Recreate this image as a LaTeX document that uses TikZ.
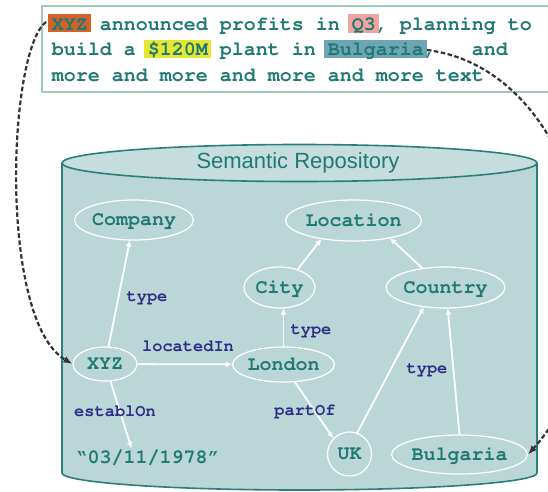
\documentclass[tikz,border=0pt]{standalone}
\usepackage[T1]{fontenc}
\usepackage{fontspec}
\setsansfont{Liberation Sans}
\usetikzlibrary{shapes.geometric,arrows.meta}

\definecolor{txtteal}{HTML}{1E7A72}
\definecolor{lblblue}{HTML}{2E2E88}
\definecolor{cylfill}{HTML}{BBD6D6}
\definecolor{cyltop}{HTML}{C6DDDD}
\definecolor{cylline}{HTML}{2A7F78}
\definecolor{boxline}{HTML}{9FCAB5}
\definecolor{linkgray}{HTML}{333333}
\definecolor{hlorange}{HTML}{D2622A}
\definecolor{hlpink}{HTML}{F0A4A0}
\definecolor{hlyellow}{HTML}{E6E632}
\definecolor{hlteal}{HTML}{6FA5B2}

\setlength{\fboxsep}{0pt}
\newcommand\cour{\fontencoding{T1}\fontfamily{pcr}\bfseries}
\newcommand\hlt[2]{\hspace{-3.5pt}\colorbox{#1}{\hspace{3.5pt}\rule[-2pt]{0pt}{18pt}#2\hspace{3.5pt}}\hspace{-3.5pt}}
\newcommand\txtfont{\cour\fontsize{20}{25}\selectfont}
\newcommand\clsfont{\cour\fontsize{20}{24}\selectfont}
\newcommand\lblfont{\cour\fontsize{17}{20}\selectfont}

\begin{document}
\begin{tikzpicture}[x=1pt,y=1pt,
  cls/.style={ellipse,draw=white,line width=1.2pt,inner sep=0pt,text=txtteal,font=\clsfont,text height=11.4pt,text depth=0pt},
  lbl/.style={text=lblblue,font=\lblfont,inner sep=0pt},
  rel/.style={draw=white,line width=1.8pt,-{Latex[length=6pt,width=6pt]}},
  link/.style={draw=linkgray,line width=2.2pt,dash pattern=on 4.5pt off 2.5pt,-{Latex[length=9pt,width=7pt]}}]
\useasboundingbox (0,0) rectangle (548,-491);
\clip (0,0) rectangle (548,-491);

% text
\draw[boxline,line width=1.2pt] (42,-6) rectangle (560,-92);
\node[anchor=base west,inner sep=0pt,text=txtteal,font=\txtfont] (line1) at (51.7,-30)
  {\hlt{hlorange}{XYZ} announced profits in \hlt{hlpink}{Q3}, planning to};
\node[anchor=base west,inner sep=0pt,text=txtteal,font=\txtfont] (line2) at (51.7,-55.5)
  {build a \hlt{hlyellow}{\$120M} plant in \hlt{hlteal}{Bulgaria},\ \ \ and};
\node[anchor=base west,inner sep=0pt,text=txtteal,font=\txtfont] (line3) at (51.7,-81)
  {more and more and more and more text};
\coordinate (fromXYZ) at (46,-22);
\coordinate (fromBG) at (427,-50);

% repository
\fill[cylfill] (62,-163) -- (62,-473) arc[start angle=180,end angle=360,x radius=237.5,y radius=17] -- (537,-163) -- cycle;
\draw[cylline,line width=1.6pt] (62,-163) -- (62,-473) arc[start angle=180,end angle=360,x radius=237.5,y radius=17] -- (537,-163);
\draw[cylline,line width=1.6pt,fill=cyltop] (299.5,-163) ellipse[x radius=237.5,y radius=18.5];
\node[font=\sffamily\fontsize{22}{26}\selectfont,text=txtteal,anchor=base,inner sep=0pt] (repo) at (298,-168) {Semantic Repository};

% classes
\node[cls,minimum width=108pt,minimum height=40pt] (Company) at (134,-220) {Company};
\node[cls,minimum width=127pt,minimum height=41pt] (Location) at (353.5,-220.5) {Location};
\node[cls,minimum width=71pt,minimum height=41pt] (City) at (279.5,-287.5) {City};
\node[cls,minimum width=107pt,minimum height=41pt] (Country) at (445.5,-287.5) {Country};
% instances
\node[cls,minimum width=64pt,minimum height=34pt] (XYZ) at (105,-364) {XYZ};
\node[cls,minimum width=101pt,minimum height=35pt] (London) at (283.5,-364.5) {London};
\node[cls,circle,minimum size=44pt] (UK) at (349.5,-454) {UK};
\node[cls,minimum width=127pt,minimum height=39pt] (Bulgaria) at (459.5,-454.5) {Bulgaria};
\node[text=txtteal,font=\clsfont,anchor=base,inner sep=0pt] (date) at (147.5,-463) {\textquotedblleft 03/11/1978\textquotedblright};

% relations
\draw[rel] (XYZ) -- (Company);
\draw[rel] (XYZ) -- (London);
\draw[rel] (XYZ) -- ([xshift=-16pt,yshift=2pt]date.north);
\draw[rel] (London.north) -- (London.north |- City.south);
\draw[rel] (City.45) -- (Location.210);
\draw[rel] (Country.140) -- (Location.334);
\draw[rel] (London.303) -- (UK.136);
\draw[rel] (UK.70) -- (Country.222);
\draw[rel] (Bulgaria.north) -- (Country.-84);

\node[lbl] (l1) at (147,-298) {type};
\node[lbl] (l2) at (188,-346) {locatedIn};
\node[lbl] (l3) at (115,-411) {establOn};
\node[lbl] (l4) at (311,-330.5) {type};
\node[lbl] (l5) at (305,-411) {partOf};
\node[lbl] (l6) at (427,-370) {type};

% links text -> repository
\draw[link] (fromXYZ) .. controls (8,-50) and (-2,-320) .. (XYZ.west);
\draw[link] (fromBG) .. controls (585,-70) and (640,-330) .. (Bulgaria.east);

\end{tikzpicture}
\end{document}
